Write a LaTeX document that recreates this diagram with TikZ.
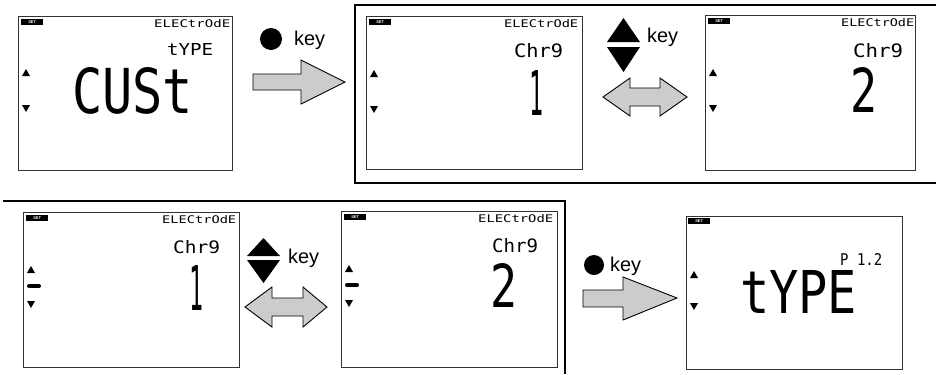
\documentclass[tikz,border=0pt]{standalone}
\usepackage{fontspec}
\setmainfont{Liberation Sans}
\newfontfamily\lcdfont{DejaVu Sans Mono}
\usetikzlibrary{positioning}
\newcommand{\lcdtesto}[3]{\resizebox{#1bp}{#2bp}{\lcdfont #3}}
\tikzset{
  schermo/.style={draw=black!80, line width=1.1pt, anchor=north west, inner sep=0pt,
    minimum width=215bp, minimum height=154bp},
  targa/.style={fill=black, text=white, anchor=north west, inner sep=0pt,
    minimum width=22bp, minimum height=6bp, font=\fontsize{4}{4}\selectfont\bfseries},
  cifre/.style={anchor=north west, inner sep=0pt},
  segno/.style={fill=black},
  trattino/.style={line width=4bp, line cap=round},
  freccia/.style={draw=black, line width=0.9pt, fill=black!20},
  pallino/.style={circle, fill=black, inner sep=0pt, minimum size=22bp},
  tasto/.style={anchor=base west, inner sep=0pt, font=\fontsize{20}{20}\selectfont},
  cornice/.style={line width=2.4pt},
}
\begin{document}
\begin{tikzpicture}[x=1bp, y=-1bp]
\useasboundingbox (0,0) rectangle (936,374);

% Cornici
\draw[cornice] (936,5) -- (355,5) -- (355,183) -- (936,183);
\draw[cornice] (3,201) -- (565,201) -- (565,374);

% Display: tipo elettrodo CUSt
\begin{scope}[shift={(18,16)}]
  \node[schermo, minimum width=214bp] (cust) at (0,0) {};
  \node[targa] (cust-set) at (3,3) {SET};
  \node[cifre] (cust-tit) at (136,3) {\lcdtesto{76}{8}{ELECtrOdE}};
  \node[cifre] (cust-par) at (149,27) {\lcdtesto{46}{12}{tYPE}};
  \node[cifre] (cust-val) at (54,51) {\lcdtesto{121}{46}{CUSt}};
  \fill[segno] (4,60) -- (12,60) -- (8,53) -- cycle;
  \fill[segno] (4,89) -- (12,89) -- (8,96) -- cycle;
\end{scope}

% Display: carica 1 (in alto)
\begin{scope}[shift={(366,16)}]
  \node[schermo, minimum width=216bp, minimum height=153bp] (caricaA) at (0,0) {};
  \node[targa] (caricaA-set) at (3,3) {SET};
  \node[cifre] (caricaA-tit) at (138,3) {\lcdtesto{74}{8}{ELECtrOdE}};
  \node[cifre] (caricaA-par) at (148,27) {\lcdtesto{49}{14}{Chr9}};
  \node[cifre] (caricaA-val) at (163,54) {\lcdtesto{14}{45}{1}};
  \fill[segno] (4,61) -- (12,61) -- (8,54) -- cycle;
  \fill[segno] (4,90) -- (12,90) -- (8,97) -- cycle;
\end{scope}

% Display: carica 2 (in alto)
\begin{scope}[shift={(705,15)}]
  \node[schermo, minimum width=210bp, minimum height=155bp] (caricaB) at (0,0) {};
  \node[targa] (caricaB-set) at (3,3) {SET};
  \node[cifre] (caricaB-tit) at (136,3) {\lcdtesto{73}{8}{ELECtrOdE}};
  \node[cifre] (caricaB-par) at (148,28) {\lcdtesto{50}{14}{Chr9}};
  \node[cifre] (caricaB-val) at (145,52) {\lcdtesto{27}{45}{2}};
  \fill[segno] (4,61) -- (12,61) -- (8,54) -- cycle;
  \fill[segno] (4,90) -- (12,90) -- (8,97) -- cycle;
\end{scope}

% Display: carica 1 (in basso)
\begin{scope}[shift={(23,212)}]
  \node[schermo, minimum width=216bp, minimum height=155bp] (caricaC) at (0,0) {};
  \node[targa] (caricaC-set) at (3,3) {SET};
  \node[cifre] (caricaC-tit) at (139,3) {\lcdtesto{74}{8}{ELECtrOdE}};
  \node[cifre] (caricaC-par) at (150,28) {\lcdtesto{47}{13}{Chr9}};
  \node[cifre] (caricaC-val) at (166,53) {\lcdtesto{14}{45}{1}};
  \fill[segno] (4,61) -- (12,61) -- (8,54) -- cycle;
  \draw[trattino] (6,74) -- (16,74);
  \fill[segno] (4,89) -- (12,89) -- (8,96) -- cycle;
\end{scope}

% Display: carica 2 (in basso)
\begin{scope}[shift={(341,211)}]
  \node[schermo, minimum width=216bp, minimum height=156bp] (caricaD) at (0,0) {};
  \node[targa] (caricaD-set) at (3,3) {SET};
  \node[cifre] (caricaD-tit) at (137,3) {\lcdtesto{75}{8}{ELECtrOdE}};
  \node[cifre] (caricaD-par) at (151,27) {\lcdtesto{46}{14}{Chr9}};
  \node[cifre] (caricaD-val) at (149,52) {\lcdtesto{27}{44}{2}};
  \fill[segno] (4,61) -- (12,61) -- (8,54) -- cycle;
  \draw[trattino] (6,74) -- (16,74);
  \fill[segno] (4,89) -- (12,89) -- (8,96) -- cycle;
\end{scope}

% Display: tipo P 1.2
\begin{scope}[shift={(686,216)}]
  \node[schermo, minimum width=216bp, minimum height=153bp] (tipo) at (0,0) {};
  \node[targa] (tipo-set) at (2,2) {SET};
  \node[cifre] (tipo-par) at (154,37) {\lcdtesto{42}{12}{P 1.2}};
  \node[cifre] (tipo-val) at (54,54) {\lcdtesto{117}{43}{tYPE}};
  \fill[segno] (4,62) -- (12,62) -- (8,55) -- cycle;
  \fill[segno] (4,87) -- (12,87) -- (8,94) -- cycle;
\end{scope}

% Frecce
\draw[freccia] (253,74) -- (301,74) -- (301,60) -- (345,82) -- (301,104) -- (301,90) -- (253,90) -- cycle;
\draw[freccia] (603,97) -- (630,78) -- (630,88) -- (660,88) -- (660,78) -- (687,97) -- (660,116) -- (660,106) -- (630,106) -- (630,116) -- cycle;
\draw[freccia] (245,307) -- (272,287) -- (272,298) -- (303,298) -- (303,287) -- (327,307) -- (303,327) -- (303,316) -- (272,316) -- (272,327) -- cycle;
\draw[freccia] (583,290) -- (623,290) -- (623,277) -- (677,298) -- (623,320) -- (623,307) -- (583,307) -- cycle;

% Tasti
\node[pallino] (okA) at (271,39) {};
\node[tasto] (okA-key) at (294,45) {key};
\fill (607,42) -- (640,42) -- (623.5,18) -- cycle;
\fill (607,47) -- (640,47) -- (623.5,72) -- cycle;
\node[tasto] (suA-key) at (647,42) {key};
\fill (247,256) -- (280,256) -- (263.5,238) -- cycle;
\fill (247,260) -- (280,260) -- (263.5,283) -- cycle;
\node[tasto] (suB-key) at (288,263) {key};
\node[pallino, minimum size=20bp] (okB) at (594,265) {};
\node[tasto] (okB-key) at (610,271) {key};
\end{tikzpicture}
\end{document}
